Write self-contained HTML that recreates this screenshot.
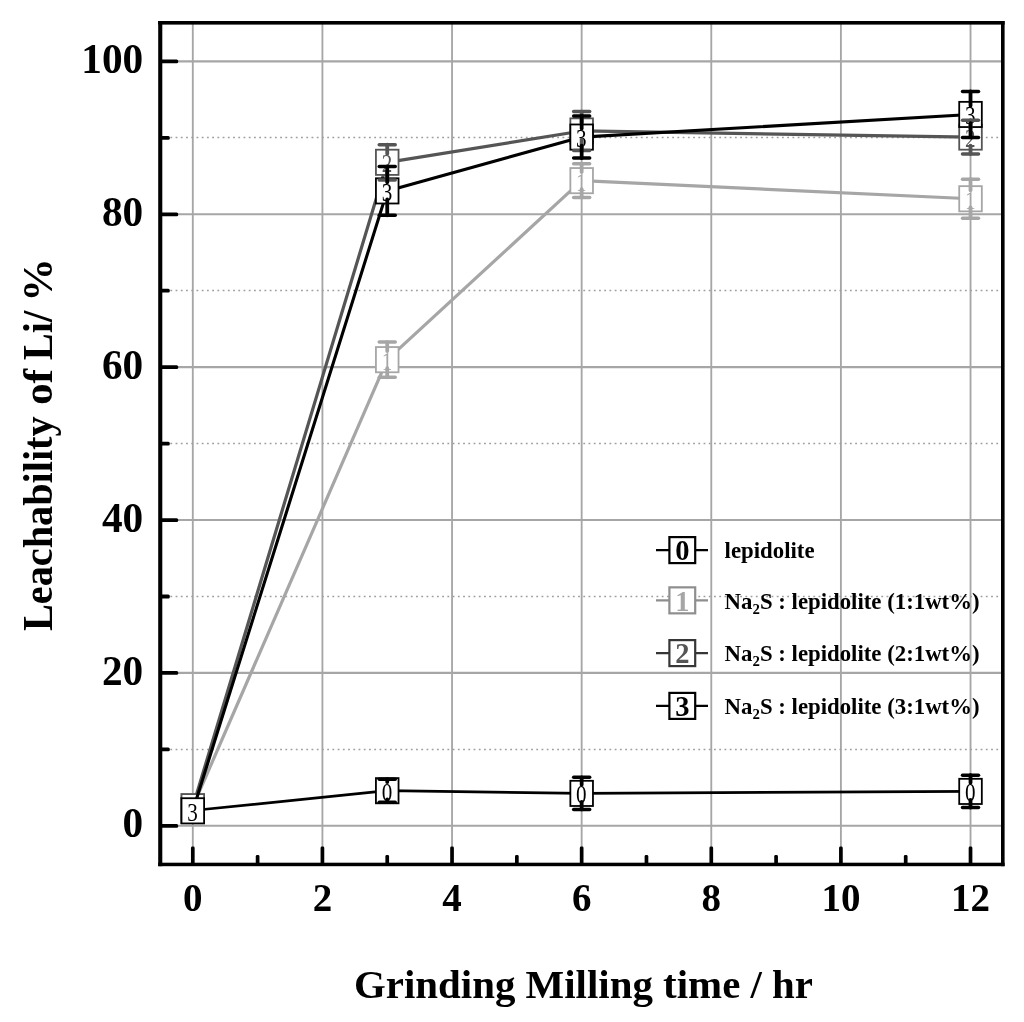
<!DOCTYPE html>
<html lang="en"><head><meta charset="utf-8"><title>Leachability of Li vs Grinding Milling time</title>
<style>html,body{margin:0;padding:0;background:#fff}svg{display:block}text{font-family:"Liberation Serif","Times New Roman",serif}.b{font-weight:bold}</style></head><body>
<svg width="1024" height="1022" viewBox="0 0 1024 1022">
<rect x="0" y="0" width="1024" height="1022" fill="#fff"/>
<g stroke="#a6a6a6" stroke-width="1.85" fill="none">
<line x1="192.80" y1="22.4" x2="192.80" y2="864.5"/>
<line x1="322.42" y1="22.4" x2="322.42" y2="864.5"/>
<line x1="452.04" y1="22.4" x2="452.04" y2="864.5"/>
<line x1="581.66" y1="22.4" x2="581.66" y2="864.5"/>
<line x1="711.28" y1="22.4" x2="711.28" y2="864.5"/>
<line x1="840.90" y1="22.4" x2="840.90" y2="864.5"/>
<line x1="970.52" y1="22.4" x2="970.52" y2="864.5"/>
<line x1="160.2" y1="825.80" x2="1002.6" y2="825.80" stroke-width="2.1"/>
<line x1="160.2" y1="672.92" x2="1002.6" y2="672.92" stroke-width="2.1"/>
<line x1="160.2" y1="520.04" x2="1002.6" y2="520.04" stroke-width="2.1"/>
<line x1="160.2" y1="367.16" x2="1002.6" y2="367.16" stroke-width="2.1"/>
<line x1="160.2" y1="214.28" x2="1002.6" y2="214.28" stroke-width="2.1"/>
<line x1="160.2" y1="61.40" x2="1002.6" y2="61.40" stroke-width="2.1"/>
</g>
<g stroke="#9e9e9e" stroke-width="1.45" stroke-dasharray="1.8 3.4275" fill="none">
<line x1="170.37" y1="749.50" x2="1002.6" y2="749.50"/>
<line x1="170.37" y1="596.50" x2="1002.6" y2="596.50"/>
<line x1="170.37" y1="443.50" x2="1002.6" y2="443.50"/>
<line x1="170.37" y1="290.50" x2="1002.6" y2="290.50"/>
<line x1="170.37" y1="137.50" x2="1002.6" y2="137.50"/>
</g>
<polyline points="192.80,810.51 387.23,790.71 581.66,793.39 970.52,791.40" fill="none" stroke="#000000" stroke-width="2.7" stroke-linejoin="round"/>
<rect x="181.50" y="797.91" width="22.6" height="25.2" fill="#fff" stroke="#000000" stroke-width="1.8"/>
<text transform="translate(192.50 820.41) scale(0.88 1.02)" font-size="24" text-anchor="middle" fill="#000000">0</text>
<rect x="375.93" y="778.11" width="22.6" height="25.2" fill="#fff" stroke="#000000" stroke-width="1.8"/>
<text transform="translate(386.93 800.61) scale(0.88 1.02)" font-size="24" text-anchor="middle" fill="#000000">0</text>
<rect x="570.36" y="780.79" width="22.6" height="25.2" fill="#fff" stroke="#000000" stroke-width="1.8"/>
<text transform="translate(581.36 803.29) scale(0.88 1.02)" font-size="24" text-anchor="middle" fill="#000000">0</text>
<rect x="959.22" y="778.80" width="22.6" height="25.2" fill="#fff" stroke="#000000" stroke-width="1.8"/>
<text transform="translate(970.22 801.30) scale(0.88 1.02)" font-size="24" text-anchor="middle" fill="#000000">0</text>
<polyline points="192.80,806.69 387.23,359.67 581.66,180.65 970.52,198.76" fill="none" stroke="#a6a6a6" stroke-width="3.2" stroke-linejoin="round"/>
<rect x="181.50" y="794.09" width="22.6" height="25.2" fill="#fff" stroke="#a6a6a6" stroke-width="1.8"/>
<text transform="translate(192.50 816.59) scale(0.88 1.02)" font-size="24" text-anchor="middle" fill="#a6a6a6">1</text>
<rect x="375.93" y="347.07" width="22.6" height="25.2" fill="#fff" stroke="#a6a6a6" stroke-width="1.8"/>
<text transform="translate(386.93 369.57) scale(0.88 1.02)" font-size="24" text-anchor="middle" fill="#a6a6a6">1</text>
<rect x="570.36" y="168.05" width="22.6" height="25.2" fill="#fff" stroke="#a6a6a6" stroke-width="1.8"/>
<text transform="translate(581.36 190.55) scale(0.88 1.02)" font-size="24" text-anchor="middle" fill="#a6a6a6">1</text>
<rect x="959.22" y="186.16" width="22.6" height="25.2" fill="#fff" stroke="#a6a6a6" stroke-width="1.8"/>
<text transform="translate(970.22 208.66) scale(0.88 1.02)" font-size="24" text-anchor="middle" fill="#a6a6a6">1</text>
<polyline points="192.80,806.69 387.23,162.30 581.66,130.96 970.52,137.08" fill="none" stroke="#555555" stroke-width="3.2" stroke-linejoin="round"/>
<rect x="181.50" y="794.09" width="22.6" height="25.2" fill="#fff" stroke="#555555" stroke-width="1.8"/>
<text transform="translate(192.50 816.59) scale(0.88 1.02)" font-size="24" text-anchor="middle" fill="#555555">2</text>
<rect x="375.93" y="149.70" width="22.6" height="25.2" fill="#fff" stroke="#555555" stroke-width="1.8"/>
<text transform="translate(386.93 172.20) scale(0.88 1.02)" font-size="24" text-anchor="middle" fill="#555555">2</text>
<rect x="570.36" y="118.36" width="22.6" height="25.2" fill="#fff" stroke="#555555" stroke-width="1.8"/>
<text transform="translate(581.36 140.86) scale(0.88 1.02)" font-size="24" text-anchor="middle" fill="#555555">2</text>
<rect x="959.22" y="124.48" width="22.6" height="25.2" fill="#fff" stroke="#555555" stroke-width="1.8"/>
<text transform="translate(970.22 146.98) scale(0.88 1.02)" font-size="24" text-anchor="middle" fill="#555555">2</text>
<polyline points="192.80,810.82 387.23,190.89 581.66,137.08 970.52,114.45" fill="none" stroke="#000000" stroke-width="3.1" stroke-linejoin="round"/>
<rect x="181.50" y="798.22" width="22.6" height="25.2" fill="#fff" stroke="#000000" stroke-width="1.8"/>
<text transform="translate(192.50 820.72) scale(0.88 1.02)" font-size="24" text-anchor="middle" fill="#000000">3</text>
<rect x="375.93" y="178.29" width="22.6" height="25.2" fill="#fff" stroke="#000000" stroke-width="1.8"/>
<text transform="translate(386.93 200.79) scale(0.88 1.02)" font-size="24" text-anchor="middle" fill="#000000">3</text>
<rect x="570.36" y="124.48" width="22.6" height="25.2" fill="#fff" stroke="#000000" stroke-width="1.8"/>
<text transform="translate(581.36 146.98) scale(0.88 1.02)" font-size="24" text-anchor="middle" fill="#000000">3</text>
<rect x="959.22" y="101.85" width="22.6" height="25.2" fill="#fff" stroke="#000000" stroke-width="1.8"/>
<text transform="translate(970.22 124.35) scale(0.88 1.02)" font-size="24" text-anchor="middle" fill="#000000">3</text>
<g stroke="#000000" stroke-width="3.5" stroke-linecap="round" fill="none">
<line x1="379.23" y1="779.25" x2="395.23" y2="779.25"/>
<line x1="387.23" y1="779.25" x2="387.23" y2="782.11" stroke-width="3.8"/>
<line x1="379.23" y1="802.18" x2="395.23" y2="802.18"/>
<line x1="387.23" y1="802.18" x2="387.23" y2="799.31" stroke-width="3.8"/>
<line x1="573.66" y1="777.34" x2="589.66" y2="777.34"/>
<line x1="581.66" y1="777.34" x2="581.66" y2="784.79" stroke-width="3.8"/>
<line x1="573.66" y1="809.44" x2="589.66" y2="809.44"/>
<line x1="581.66" y1="809.44" x2="581.66" y2="801.99" stroke-width="3.8"/>
<line x1="962.52" y1="775.20" x2="978.52" y2="775.20"/>
<line x1="970.52" y1="775.20" x2="970.52" y2="782.80" stroke-width="3.8"/>
<line x1="962.52" y1="807.61" x2="978.52" y2="807.61"/>
<line x1="970.52" y1="807.61" x2="970.52" y2="800.00" stroke-width="3.8"/>
</g>
<g stroke="#a6a6a6" stroke-width="3.5" stroke-linecap="round" fill="none">
<line x1="379.23" y1="342.09" x2="395.23" y2="342.09"/>
<line x1="387.23" y1="342.09" x2="387.23" y2="351.07" stroke-width="3.8"/>
<line x1="379.23" y1="377.25" x2="395.23" y2="377.25"/>
<line x1="387.23" y1="377.25" x2="387.23" y2="368.27" stroke-width="3.8"/>
<line x1="573.66" y1="163.68" x2="589.66" y2="163.68"/>
<line x1="581.66" y1="163.68" x2="581.66" y2="172.05" stroke-width="3.8"/>
<line x1="573.66" y1="197.62" x2="589.66" y2="197.62"/>
<line x1="581.66" y1="197.62" x2="581.66" y2="189.25" stroke-width="3.8"/>
<line x1="962.52" y1="179.27" x2="978.52" y2="179.27"/>
<line x1="970.52" y1="179.27" x2="970.52" y2="190.16" stroke-width="3.8"/>
<line x1="962.52" y1="218.25" x2="978.52" y2="218.25"/>
<line x1="970.52" y1="218.25" x2="970.52" y2="207.36" stroke-width="3.8"/>
</g>
<g stroke="#555555" stroke-width="3.5" stroke-linecap="round" fill="none">
<line x1="379.23" y1="144.72" x2="395.23" y2="144.72"/>
<line x1="387.23" y1="144.72" x2="387.23" y2="153.70" stroke-width="3.8"/>
<line x1="379.23" y1="179.88" x2="395.23" y2="179.88"/>
<line x1="387.23" y1="179.88" x2="387.23" y2="170.90" stroke-width="3.8"/>
<line x1="573.66" y1="111.54" x2="589.66" y2="111.54"/>
<line x1="581.66" y1="111.54" x2="581.66" y2="122.36" stroke-width="3.8"/>
<line x1="573.66" y1="150.38" x2="589.66" y2="150.38"/>
<line x1="581.66" y1="150.38" x2="581.66" y2="139.56" stroke-width="3.8"/>
<line x1="962.52" y1="120.26" x2="978.52" y2="120.26"/>
<line x1="970.52" y1="120.26" x2="970.52" y2="128.48" stroke-width="3.8"/>
<line x1="962.52" y1="153.89" x2="978.52" y2="153.89"/>
<line x1="970.52" y1="153.89" x2="970.52" y2="145.68" stroke-width="3.8"/>
</g>
<g stroke="#000000" stroke-width="3.5" stroke-linecap="round" fill="none">
<line x1="379.23" y1="166.43" x2="395.23" y2="166.43"/>
<line x1="387.23" y1="166.43" x2="387.23" y2="182.29" stroke-width="3.8"/>
<line x1="379.23" y1="215.35" x2="395.23" y2="215.35"/>
<line x1="387.23" y1="215.35" x2="387.23" y2="199.49" stroke-width="3.8"/>
<line x1="573.66" y1="116.05" x2="589.66" y2="116.05"/>
<line x1="581.66" y1="116.05" x2="581.66" y2="128.48" stroke-width="3.8"/>
<line x1="573.66" y1="158.10" x2="589.66" y2="158.10"/>
<line x1="581.66" y1="158.10" x2="581.66" y2="145.68" stroke-width="3.8"/>
<line x1="962.52" y1="91.52" x2="978.52" y2="91.52"/>
<line x1="970.52" y1="91.52" x2="970.52" y2="105.85" stroke-width="3.8"/>
<line x1="962.52" y1="137.38" x2="978.52" y2="137.38"/>
<line x1="970.52" y1="137.38" x2="970.52" y2="123.05" stroke-width="3.8"/>
</g>
<g fill="#000">
<rect x="190.95" y="846.6" width="3.7" height="17.40" rx="1.4"/>
<rect x="255.76" y="855.0" width="3.7" height="9.00" rx="1.4"/>
<rect x="320.57" y="846.6" width="3.7" height="17.40" rx="1.4"/>
<rect x="385.38" y="855.0" width="3.7" height="9.00" rx="1.4"/>
<rect x="450.19" y="846.6" width="3.7" height="17.40" rx="1.4"/>
<rect x="515.00" y="855.0" width="3.7" height="9.00" rx="1.4"/>
<rect x="579.81" y="846.6" width="3.7" height="17.40" rx="1.4"/>
<rect x="644.62" y="855.0" width="3.7" height="9.00" rx="1.4"/>
<rect x="709.43" y="846.6" width="3.7" height="17.40" rx="1.4"/>
<rect x="774.24" y="855.0" width="3.7" height="9.00" rx="1.4"/>
<rect x="839.05" y="846.6" width="3.7" height="17.40" rx="1.4"/>
<rect x="903.86" y="855.0" width="3.7" height="9.00" rx="1.4"/>
<rect x="968.67" y="846.6" width="3.7" height="17.40" rx="1.4"/>
<rect x="160" y="823.90" width="18.20" height="3.8" rx="1.5"/>
<rect x="160" y="747.46" width="9.80" height="3.8" rx="1.5"/>
<rect x="160" y="671.02" width="18.20" height="3.8" rx="1.5"/>
<rect x="160" y="594.58" width="9.80" height="3.8" rx="1.5"/>
<rect x="160" y="518.14" width="18.20" height="3.8" rx="1.5"/>
<rect x="160" y="441.70" width="9.80" height="3.8" rx="1.5"/>
<rect x="160" y="365.26" width="18.20" height="3.8" rx="1.5"/>
<rect x="160" y="288.82" width="9.80" height="3.8" rx="1.5"/>
<rect x="160" y="212.38" width="18.20" height="3.8" rx="1.5"/>
<rect x="160" y="135.94" width="9.80" height="3.8" rx="1.5"/>
<rect x="160" y="59.50" width="18.20" height="3.8" rx="1.5"/>
<rect x="158.2" y="21.0" width="4.1" height="845.2"/>
<rect x="1001.0" y="21.0" width="3.6" height="845.2"/>
<rect x="158.2" y="21.0" width="846.4" height="3.6"/>
<rect x="158.2" y="862.7" width="846.4" height="3.5"/>
</g>
<g class="b" fill="#000">
<text x="192.80" y="911.2" font-size="39" text-anchor="middle">0</text>
<text x="322.42" y="911.2" font-size="39" text-anchor="middle">2</text>
<text x="452.04" y="911.2" font-size="39" text-anchor="middle">4</text>
<text x="581.66" y="911.2" font-size="39" text-anchor="middle">6</text>
<text x="711.28" y="911.2" font-size="39" text-anchor="middle">8</text>
<text x="840.90" y="911.2" font-size="39" text-anchor="middle">10</text>
<text x="970.52" y="911.2" font-size="39" text-anchor="middle">12</text>
<text x="143.2" y="837.40" font-size="41.3" text-anchor="end">0</text>
<text x="143.2" y="684.52" font-size="41.3" text-anchor="end">20</text>
<text x="143.2" y="531.64" font-size="41.3" text-anchor="end">40</text>
<text x="143.2" y="378.76" font-size="41.3" text-anchor="end">60</text>
<text x="143.2" y="225.88" font-size="41.3" text-anchor="end">80</text>
<text x="143.2" y="73.00" font-size="41.3" text-anchor="end">100</text>
</g>
<text class="b" x="354" y="997.9" font-size="40.6" textLength="459" lengthAdjust="spacingAndGlyphs">Grinding Milling time / hr</text>
<text class="b" transform="translate(51.9 631) rotate(-90)" font-size="41.8"><tspan x="0.00" y="0" textLength="214.60" lengthAdjust="spacingAndGlyphs">Leachability</tspan> <tspan x="225.90" y="0" textLength="36.20" lengthAdjust="spacingAndGlyphs">of</tspan> <tspan x="270.80" y="0" textLength="49.40" lengthAdjust="spacingAndGlyphs">Li/</tspan> <tspan x="329.30" y="0" textLength="43.60" lengthAdjust="spacingAndGlyphs">%</tspan></text>
<line x1="656" y1="550.1" x2="708" y2="550.1" stroke="#000" stroke-width="2.1"/>
<rect x="669.4" y="537.10" width="25.8" height="26" fill="#fff" stroke="#000" stroke-width="2.2"/>
<text class="b" x="682.3" y="560.40" font-size="28.5" text-anchor="middle" fill="#000000">0</text>
<text class="b" x="724.6" y="557.9" font-size="22.8" fill="#000">lepidolite</text>
<line x1="656" y1="600.35" x2="708" y2="600.35" stroke="#8e8e8e" stroke-width="2.1"/>
<rect x="669.4" y="587.35" width="25.8" height="26" fill="#fff" stroke="#8e8e8e" stroke-width="2.2"/>
<text class="b" x="682.3" y="610.65" font-size="28.5" text-anchor="middle" fill="#a6a6a6">1</text>
<text class="b" x="724.6" y="608.7" font-size="22.8" fill="#000">Na<tspan font-size="14.8" dy="5">2</tspan><tspan dy="-5">S : lepidolite (1:1wt%)</tspan></text>
<line x1="656" y1="653.1" x2="708" y2="653.1" stroke="#363636" stroke-width="2.1"/>
<rect x="669.4" y="640.10" width="25.8" height="26" fill="#fff" stroke="#363636" stroke-width="2.2"/>
<text class="b" x="682.3" y="663.40" font-size="28.5" text-anchor="middle" fill="#555555">2</text>
<text class="b" x="724.6" y="661.0" font-size="22.8" fill="#000">Na<tspan font-size="14.8" dy="5">2</tspan><tspan dy="-5">S : lepidolite (2:1wt%)</tspan></text>
<line x1="656" y1="705.9" x2="708" y2="705.9" stroke="#000" stroke-width="2.1"/>
<rect x="669.4" y="692.90" width="25.8" height="26" fill="#fff" stroke="#000" stroke-width="2.2"/>
<text class="b" x="682.3" y="716.20" font-size="28.5" text-anchor="middle" fill="#000000">3</text>
<text class="b" x="724.6" y="713.8" font-size="22.8" fill="#000">Na<tspan font-size="14.8" dy="5">2</tspan><tspan dy="-5">S : lepidolite (3:1wt%)</tspan></text>
</svg></body></html>
